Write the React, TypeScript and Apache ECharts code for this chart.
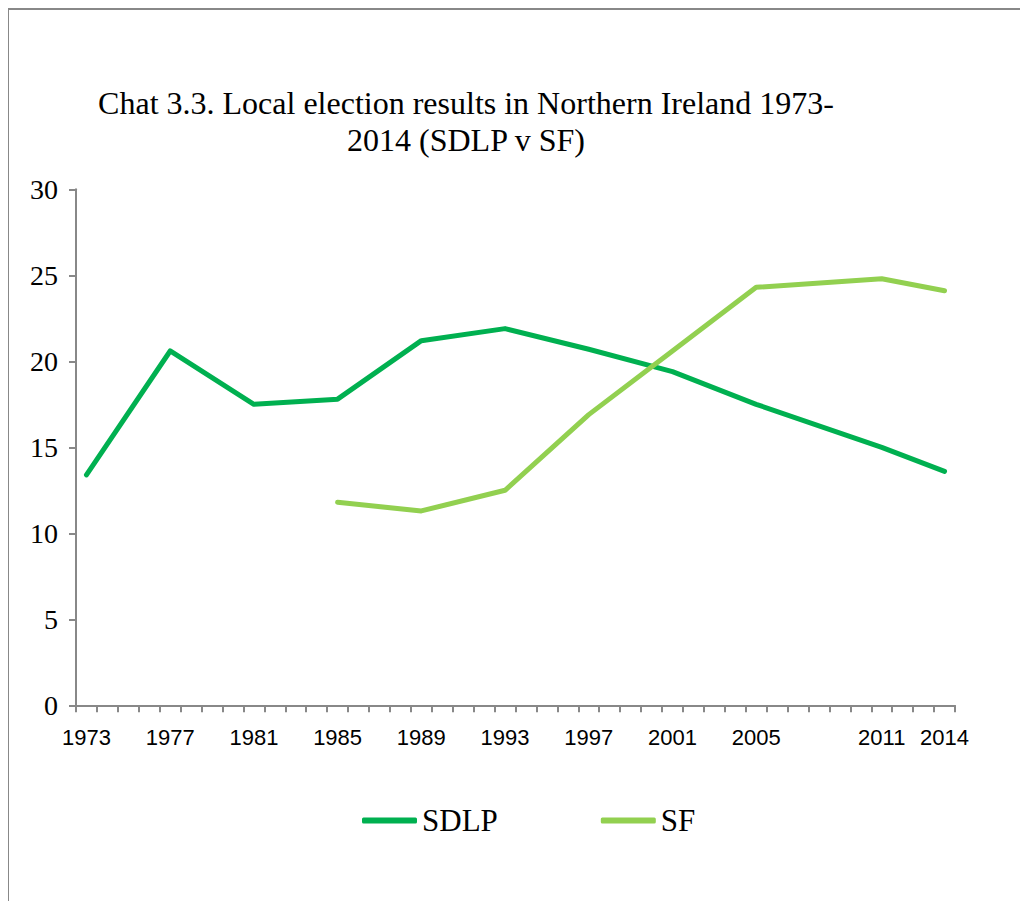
import React, { useEffect, useRef } from "react";
import * as echarts from "echarts";

const allYears: string[] = [];
for (let y = 1973; y <= 2014; y++) allYears.push(String(y));

const electionYears = ["1973", "1977", "1981", "1985", "1989", "1993", "1997", "2001", "2005", "2011", "2014"];
const sdlpValues = [13.4, 20.6, 17.5, 17.8, 21.2, 21.9, 20.7, 19.4, 17.5, 15.0, 13.6];
const sfValues: (number | null)[] = [null, null, null, 11.8, 11.3, 12.5, 16.9, 20.6, 24.3, 24.8, 24.1];

const seriesNames = ["SDLP", "SF"];
const seriesColors = ["#00B050", "#92D050"];

const titleText = "Chat 3.3. Local election results in Northern Ireland 1973-\n2014 (SDLP v SF)";

export default function App() {
  const ref = useRef<HTMLDivElement>(null);
  useEffect(() => {
    if (!ref.current) return;
    const chart = echarts.init(ref.current, null, { renderer: "svg" });
    const toPairs = (vals: (number | null)[]) =>
      electionYears
        .map((y, i) => [y, vals[i]])
        .filter((p) => p[1] !== null);
    const serif = "'Liberation Serif', 'Times New Roman', serif";
    chart.setOption({
      animation: false,
      backgroundColor: "#ffffff",
      textStyle: { fontFamily: serif },
      title: {
        text: titleText,
        left: 458,
        top: 76,
        textAlign: "center",
        padding: 0,
        textStyle: {
          fontFamily: serif,
          fontSize: 32,
          fontWeight: "normal",
          color: "#000",
          lineHeight: 37,
        },
      },
      legend: {
        left: 354,
        top: 797,
        padding: 0,
        icon: "roundRect",
        itemWidth: 55,
        itemHeight: 6,
        itemGap: 103,
        formatter: "{s|{name}}",
        textStyle: {
          fontFamily: serif,
          fontSize: 31,
          color: "#000",
          rich: { s: { fontFamily: serif, fontSize: 31, color: "#000" } },
        },
        data: seriesNames,
      },
      grid: { left: 68, right: 73, top: 181.3, bottom: 195.7, containLabel: false },
      xAxis: {
        type: "category",
        data: allYears,
        boundaryGap: true,
        axisLine: { show: true, lineStyle: { color: "#888", width: 2 } },
        axisTick: { show: true, interval: 0, length: 7, lineStyle: { color: "#888", width: 2 } },
        axisLabel: {
          interval: (index: number, value: string) => electionYears.indexOf(value) >= 0,
          fontFamily: "Liberation Sans",
          fontSize: 22,
          color: "#000",
          margin: 21,
        },
        splitLine: { show: false },
      },
      yAxis: {
        type: "value",
        min: 0,
        max: 30,
        interval: 5,
        axisLine: { show: true, lineStyle: { color: "#888", width: 2 } },
        axisTick: { show: true, length: 7, lineStyle: { color: "#888", width: 2 } },
        axisLabel: { fontFamily: serif, fontSize: 28, color: "#000", margin: 18 },
        splitLine: { show: false },
      },
      graphic: [
        {
          type: "rect",
          shape: { x: 0, y: 1, width: 1100, height: 1000 },
          style: { fill: "none", stroke: "#888", lineWidth: 2 },
          silent: true,
        },
      ],
      series: [
        {
          name: seriesNames[0],
          type: "line",
          data: toPairs(sdlpValues),
          symbol: "none",
          lineStyle: { color: seriesColors[0], width: 5, cap: "round", join: "round" },
          itemStyle: { color: seriesColors[0] },
        },
        {
          name: seriesNames[1],
          type: "line",
          data: toPairs(sfValues),
          symbol: "none",
          lineStyle: { color: seriesColors[1], width: 5, cap: "round", join: "round" },
          itemStyle: { color: seriesColors[1] },
        },
      ],
    });
    return () => chart.dispose();
  }, []);
  return <div ref={ref} style={{ width: 1020, height: 893 }} />;
}
